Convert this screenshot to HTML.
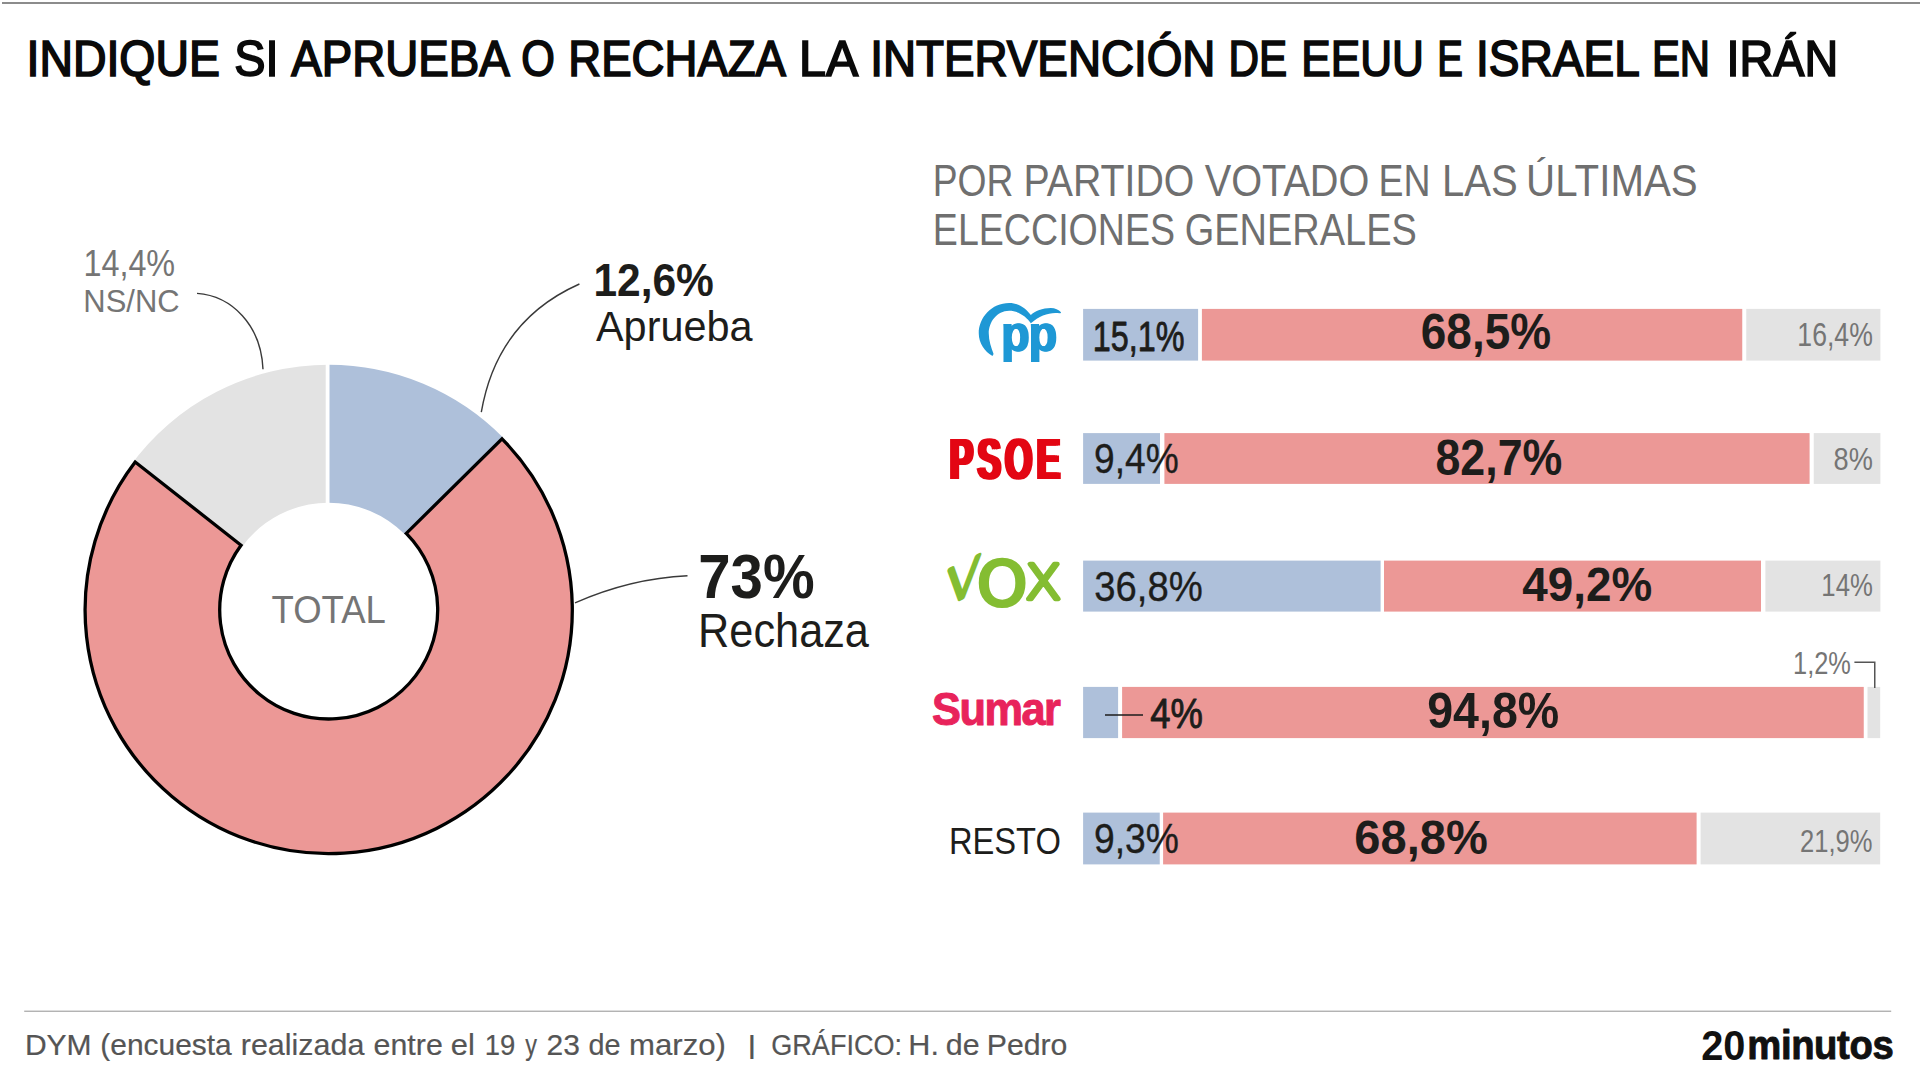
<!DOCTYPE html>
<html lang="es"><head><meta charset="utf-8"><title>Intervención de EEUU e Israel en Irán</title>
<style>
html,body{margin:0;padding:0;background:#fff;}
body{width:1920px;height:1080px;overflow:hidden;font-family:"Liberation Sans",sans-serif;}
svg{display:block;font-family:"Liberation Sans",sans-serif;}
text{white-space:pre;}
</style></head><body>
<svg width="1920" height="1080" viewBox="0 0 1920 1080">
<defs>
<filter id="hx200" x="-10%" y="-10%" width="120%" height="120%" color-interpolation-filters="sRGB"><feOffset in="SourceGraphic" dx="-2" dy="0" result="a"/><feOffset in="SourceGraphic" dx="2" dy="0" result="b"/><feMerge><feMergeNode in="a"/><feMergeNode in="b"/><feMergeNode in="SourceGraphic"/></feMerge></filter>
<filter id="hx100" x="-10%" y="-10%" width="120%" height="120%" color-interpolation-filters="sRGB"><feOffset in="SourceGraphic" dx="-1" dy="0" result="a"/><feOffset in="SourceGraphic" dx="1" dy="0" result="b"/><feMerge><feMergeNode in="a"/><feMergeNode in="b"/><feMergeNode in="SourceGraphic"/></feMerge></filter>
</defs>
<rect width="1920" height="1080" fill="#fff"/>
<rect x="2" y="2" width="1918" height="2" fill="#8c8c8c"/>
<rect x="24.2" y="1010.6" width="1867" height="1.3" fill="#ababab"/>
<g id="donut">
<path d="M129.40,467.00 A245.3,245.3 0 0 1 328.70,364.70 L328.70,502.70 A107.3,107.3 0 0 0 241.52,547.45 Z" fill="#e3e3e3"/>
<path d="M328.70,364.70 A245.3,245.3 0 0 1 503.24,437.64 L405.05,534.61 A107.3,107.3 0 0 0 328.70,502.70 Z" fill="#aec0da"/>
<rect x="325.7" y="360" width="3.8" height="150" fill="#fff"/>
<path d="M502.03,438.83 A243.6,243.6 0 1 1 135.20,462.02 L241.05,545.20 A109,109 0 1 0 406.26,533.41 Z" fill="#ec9896" stroke="#000" stroke-width="3.3" stroke-linejoin="miter"/>
</g>
<g id="bars">
<rect x="1083.1" y="308.9" width="115.00" height="51.70" fill="#aec0da"/>
<rect x="1201.9" y="308.9" width="540.35" height="51.70" fill="#ec9896"/>
<rect x="1746.25" y="308.9" width="134.15" height="51.70" fill="#e3e3e3"/>
<rect x="1083.1" y="433.1" width="76.90" height="50.80" fill="#aec0da"/>
<rect x="1164.4" y="433.1" width="645.20" height="50.80" fill="#ec9896"/>
<rect x="1813.75" y="433.1" width="66.65" height="50.80" fill="#e3e3e3"/>
<rect x="1083.1" y="560.6" width="297.50" height="51.00" fill="#aec0da"/>
<rect x="1384" y="560.6" width="377.00" height="51.00" fill="#ec9896"/>
<rect x="1765.4" y="560.6" width="115.00" height="51.00" fill="#e3e3e3"/>
<rect x="1083.1" y="686.9" width="35.00" height="51.20" fill="#aec0da"/>
<rect x="1122.1" y="686.9" width="741.65" height="51.20" fill="#ec9896"/>
<rect x="1867.5" y="686.9" width="12.70" height="51.20" fill="#e3e3e3"/>
<rect x="1083.1" y="812.6" width="76.65" height="51.80" fill="#aec0da"/>
<rect x="1163.1" y="812.6" width="533.50" height="51.80" fill="#ec9896"/>
<rect x="1700.6" y="812.6" width="179.60" height="51.80" fill="#e3e3e3"/>
</g>
<path d="M197,293.4 C232,296 261,325 263,369.3" fill="none" stroke="#3a3a3a" stroke-width="1.4"/>
<path d="M579.4,284 Q497,320.7 481.3,412.2" fill="none" stroke="#3a3a3a" stroke-width="1.4"/>
<path d="M687.5,575.8 Q630.8,578.4 575,602.9" fill="none" stroke="#3a3a3a" stroke-width="1.4"/>
<path d="M1105,715 H1143" fill="none" stroke="#1d1d1b" stroke-width="1.5"/>
<path d="M1854.4,662.25 H1874.75 V688" fill="none" stroke="#555" stroke-width="1.5"/>
<g id="pp-logo" transform="translate(960,290) scale(0.083333)" fill="#1e98d5">
<path d="M385,790 C300,740 225,640 225,520 C225,330 380,155 590,155 C700,155 790,215 850,300 C900,250 990,215 1090,215 C1140,215 1185,235 1212,268 C1212,278 1205,282 1195,280 C1090,262 960,300 850,400 C800,320 700,250 590,250 C440,250 345,390 345,520 C345,610 375,690 402,765 C400,780 395,790 385,790 Z"/>
</g>
<g id="vox-logo">
<text id="vV" font-family="DejaVu Sans, sans-serif" transform="matrix(0.4783,-0.2357,-0.0394,0.4874,945.22,606.08)" font-size="100" font-weight="200" fill="#84bd32" stroke="#84bd32" stroke-width="9.0" stroke-linejoin="round">V</text>
<text id="vO" font-family="DejaVu Sans, sans-serif" transform="translate(977.11,604.43) scale(1.1042,1)" font-size="57.89" font-weight="200" fill="#84bd32" stroke="#84bd32" stroke-width="6.2" stroke-linejoin="round" >O</text>
<text id="vX" font-family="DejaVu Sans, sans-serif" transform="translate(1025.13,599.40) scale(1.0853,1)" font-size="48.49" font-weight="200" fill="#84bd32" stroke="#84bd32" stroke-width="4.4" stroke-linejoin="round" >X</text>
</g>
<g id="labels">
<text id="title" y="76.35" font-size="49.57" font-weight="normal" fill="#0a0a0a" stroke="#0a0a0a" stroke-width="1.7" stroke-linejoin="miter"><tspan x="26.52" textLength="193.41" lengthAdjust="spacingAndGlyphs">INDIQUE</tspan> <tspan x="234.16" textLength="44.27" lengthAdjust="spacingAndGlyphs">SI</tspan> <tspan x="291.20" textLength="216.07" lengthAdjust="spacingAndGlyphs">APRUEBA</tspan> <tspan x="521.33" textLength="33.64" lengthAdjust="spacingAndGlyphs">O</tspan> <tspan x="568.35" textLength="215.13" lengthAdjust="spacingAndGlyphs">RECHAZA</tspan> <tspan x="799.00" textLength="56.55" lengthAdjust="spacingAndGlyphs">LA</tspan> <tspan x="870.33" textLength="345.05" lengthAdjust="spacingAndGlyphs">INTERVENCIÓN</tspan> <tspan x="1228.58" textLength="58.61" lengthAdjust="spacingAndGlyphs">DE</tspan> <tspan x="1301.37" textLength="122.64" lengthAdjust="spacingAndGlyphs">EEUU</tspan> <tspan x="1437.16" textLength="25.57" lengthAdjust="spacingAndGlyphs">E</tspan> <tspan x="1476.00" textLength="162.09" lengthAdjust="spacingAndGlyphs">ISRAEL</tspan> <tspan x="1651.96" textLength="58.14" lengthAdjust="spacingAndGlyphs">EN</tspan> <tspan x="1726.59" textLength="111.61" lengthAdjust="spacingAndGlyphs">IRÁN</tspan></text>
<text id="h1" y="195.70" font-size="43.91" font-weight="normal" fill="#6f6f6f"><tspan x="932.69" textLength="80.76" lengthAdjust="spacingAndGlyphs">POR</tspan> <tspan x="1023.43" textLength="171.01" lengthAdjust="spacingAndGlyphs">PARTIDO</tspan> <tspan x="1204.74" textLength="164.69" lengthAdjust="spacingAndGlyphs">VOTADO</tspan> <tspan x="1378.58" textLength="52.01" lengthAdjust="spacingAndGlyphs">EN</tspan> <tspan x="1441.96" textLength="75.71" lengthAdjust="spacingAndGlyphs">LAS</tspan> <tspan x="1526.11" textLength="171.56" lengthAdjust="spacingAndGlyphs">ÚLTIMAS</tspan></text>
<text id="h2" y="245.30" font-size="43.62" font-weight="normal" fill="#6f6f6f"><tspan x="932.87" textLength="242.17" lengthAdjust="spacingAndGlyphs">ELECCIONES</tspan> <tspan x="1184.80" textLength="231.97" lengthAdjust="spacingAndGlyphs">GENERALES</tspan></text>
<text id="nsp" transform="translate(83.42,275.60) scale(0.8964,1)" font-size="36.09" font-weight="normal" fill="#757575" >14,4%</text>
<text id="nsl" transform="translate(83.32,312.20) scale(0.9802,1)" font-size="31.59" font-weight="normal" fill="#757575" >NS/NC</text>
<text id="app" transform="translate(593.41,295.60) scale(0.9190,1)" font-size="46.23" font-weight="bold" fill="#1d1d1b" >12,6%</text>
<text id="apl" transform="translate(595.96,340.90) scale(0.9963,1)" font-size="41.59" font-weight="normal" fill="#1d1d1b" >Aprueba</text>
<text id="rep" transform="translate(698.28,597.90) scale(0.9243,1)" font-size="62.90" font-weight="bold" fill="#1d1d1b" >73%</text>
<text id="rel" transform="translate(698.09,646.60) scale(0.9138,1)" font-size="47.39" font-weight="normal" fill="#1d1d1b" >Rechaza</text>
<text id="tot" transform="translate(271.55,622.90) scale(0.9443,1)" font-size="38.70" font-weight="normal" fill="#757575" >TOTAL</text>
<text id="b1a" transform="translate(1092.86,350.80) scale(0.7501,1)" font-size="43.12" font-weight="normal" fill="#1d1d1b" stroke="#1d1d1b" stroke-width="0.9" stroke-linejoin="round" >15,1%</text>
<text id="b1b" transform="translate(1420.81,348.90) scale(0.9282,1)" font-size="49.53" font-weight="bold" fill="#1d1d1b" >68,5%</text>
<text id="b1c" transform="translate(1797.36,346.25) scale(0.8164,1)" font-size="32.61" font-weight="normal" fill="#757575" >16,4%</text>
<text id="b2a" transform="translate(1094.02,472.50) scale(0.8678,1)" font-size="42.81" font-weight="normal" fill="#1d1d1b" stroke="#1d1d1b" stroke-width="0.35" stroke-linejoin="round" >9,4%</text>
<text id="b2b" transform="translate(1435.41,475.10) scale(0.9042,1)" font-size="49.53" font-weight="bold" fill="#1d1d1b" >82,7%</text>
<text id="b2c" transform="translate(1833.57,470.29) scale(0.8791,1)" font-size="30.92" font-weight="normal" fill="#757575" >8%</text>
<text id="b3a" transform="translate(1094.23,601.31) scale(0.9126,1)" font-size="41.96" font-weight="normal" fill="#1d1d1b" stroke="#1d1d1b" stroke-width="0.35" stroke-linejoin="round" >36,8%</text>
<text id="b3b" transform="translate(1522.24,601.21) scale(0.9413,1)" font-size="48.68" font-weight="bold" fill="#1d1d1b" >49,2%</text>
<text id="b3c" transform="translate(1821.33,595.80) scale(0.8102,1)" font-size="31.74" font-weight="normal" fill="#757575" >14%</text>
<text id="b4a" transform="translate(1150.14,728.30) scale(0.8639,1)" font-size="42.17" font-weight="normal" fill="#1d1d1b" stroke="#1d1d1b" stroke-width="0.9" stroke-linejoin="round" >4%</text>
<text id="b4b" transform="translate(1427.20,728.25) scale(0.9406,1)" font-size="49.53" font-weight="bold" fill="#1d1d1b" >94,8%</text>
<text id="b4c" transform="translate(1793.05,674.40) scale(0.7998,1)" font-size="31.74" font-weight="normal" fill="#757575" >1,2%</text>
<text id="resto" transform="translate(948.88,853.75) scale(0.8901,1)" font-size="36.74" font-weight="normal" fill="#1d1d1b" >RESTO</text>
<text id="b5a" transform="translate(1094.02,853.16) scale(0.8879,1)" font-size="41.96" font-weight="normal" fill="#1d1d1b" stroke="#1d1d1b" stroke-width="0.35" stroke-linejoin="round" >9,3%</text>
<text id="b5b" transform="translate(1354.27,853.51) scale(0.9702,1)" font-size="48.54" font-weight="bold" fill="#1d1d1b" >68,8%</text>
<text id="b5c" transform="translate(1799.97,851.90) scale(0.8287,1)" font-size="30.87" font-weight="normal" fill="#757575" >21,9%</text>
<g filter="url(#hx200)"><text id="psoe" transform="translate(949.86,478.60) scale(0.6102,1)" font-size="57.54" font-weight="bold" fill="#e30613" letter-spacing="6.904" >PSOE</text></g>
<text id="sumar" transform="translate(932.07,724.50) scale(0.9518,1)" font-size="45.57" font-weight="bold" fill="#e8235b" letter-spacing="-1.595" stroke="#e8235b" stroke-width="1.0" stroke-linejoin="round" >Sumar</text>
<g filter="url(#hx100)"><text id="pp" transform="translate(1001.19,350.80) scale(0.9131,1)" font-size="51.04" font-weight="bold" fill="#1e98d5" letter-spacing="-1.021" >pp</text></g>
<text id="f1" y="1055.10" font-size="29.42" font-weight="normal" fill="#555" stroke="#555" stroke-width="0.2" stroke-linejoin="miter"><tspan x="24.90" textLength="66.77" lengthAdjust="spacingAndGlyphs">DYM</tspan> <tspan x="100.30" textLength="131.44" lengthAdjust="spacingAndGlyphs">(encuesta</tspan> <tspan x="240.77" textLength="123.57" lengthAdjust="spacingAndGlyphs">realizada</tspan> <tspan x="373.58" textLength="69.21" lengthAdjust="spacingAndGlyphs">entre</tspan> <tspan x="450.76" textLength="24.05" lengthAdjust="spacingAndGlyphs">el</tspan> <tspan x="484.69" textLength="30.55" lengthAdjust="spacingAndGlyphs">19</tspan> <tspan x="525.32" textLength="11.76" lengthAdjust="spacingAndGlyphs">y</tspan> <tspan x="546.60" textLength="33.37" lengthAdjust="spacingAndGlyphs">23</tspan> <tspan x="588.45" textLength="32.06" lengthAdjust="spacingAndGlyphs">de</tspan> <tspan x="629.12" textLength="96.89" lengthAdjust="spacingAndGlyphs">marzo)</tspan></text>
<text id="f2" transform="translate(747.02,1053.90) scale(1.4044,1)" font-size="26.70" font-weight="normal" fill="#555" >|</text>
<text id="f3" y="1055.00" font-size="29.13" font-weight="normal" fill="#555" stroke="#555" stroke-width="0.2" stroke-linejoin="miter"><tspan x="771.25" textLength="130.79" lengthAdjust="spacingAndGlyphs">GRÁFICO:</tspan> <tspan x="908.35" textLength="30.60" lengthAdjust="spacingAndGlyphs">H.</tspan> <tspan x="945.78" textLength="33.80" lengthAdjust="spacingAndGlyphs">de</tspan> <tspan x="986.78" textLength="80.68" lengthAdjust="spacingAndGlyphs">Pedro</tspan></text>
<text id="l20" transform="translate(1701.17,1059.75) scale(0.9318,1)" font-size="42.70" font-weight="bold" fill="#111" >20</text>
<text id="lmin" transform="translate(1747.28,1059.30) scale(0.9492,1)" font-size="40.28" font-weight="bold" fill="#111" letter-spacing="-0.403" stroke="#111" stroke-width="0.9" stroke-linejoin="round" >minutos</text>
</g>
</svg>
</body></html>
